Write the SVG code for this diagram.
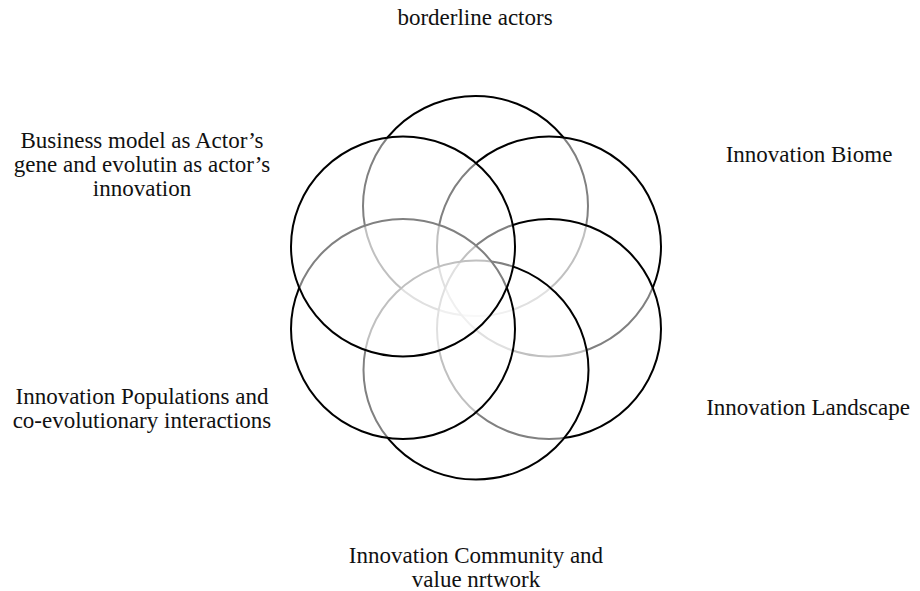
<svg xmlns="http://www.w3.org/2000/svg" width="920" height="591" viewBox="0 0 920 591">
<style>
.c{fill:#ffffff;fill-opacity:0.5;stroke:#000;stroke-width:2}
.t{font-family:"Liberation Serif","Times New Roman",serif;font-size:23px;fill:#111;text-anchor:middle}
</style>
<rect width="920" height="591" fill="#fff"/>
<g id="top"><ellipse class="c" cx="475.5" cy="206" rx="112.5" ry="110"/><text class="t" x="475" y="25">borderline actors</text></g>
<g id="upper-right"><ellipse class="c" cx="549" cy="246.5" rx="112" ry="110"/><text class="t" x="809" y="162">Innovation Biome</text></g>
<g id="lower-right"><ellipse class="c" cx="549" cy="329" rx="112" ry="110"/><text class="t" x="808" y="415">Innovation Landscape</text></g>
<g id="bottom"><ellipse class="c" cx="476" cy="370" rx="112.5" ry="109.5"/><text class="t" x="476" y="563">Innovation Community and</text><text class="t" x="476" y="587">value nrtwork</text></g>
<g id="lower-left"><ellipse class="c" cx="403" cy="329" rx="112" ry="110"/><text class="t" x="142" y="404">Innovation Populations and</text><text class="t" x="142" y="428">co-evolutionary interactions</text></g>
<g id="upper-left"><ellipse class="c" cx="403" cy="246.5" rx="112" ry="110"/><text class="t" x="142" y="148">Business model as Actor’s</text><text class="t" x="142" y="172">gene and evolutin as actor’s</text><text class="t" x="142" y="196">innovation</text></g>
<g id="connectors"></g>
</svg>
